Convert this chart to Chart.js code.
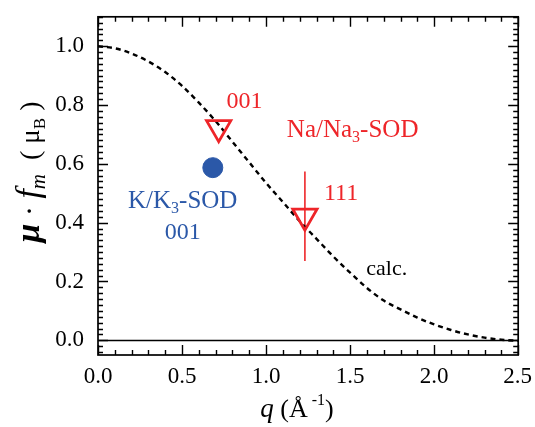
<!DOCTYPE html>
<html>
<head>
<meta charset="utf-8">
<script src="https://cdn.jsdelivr.net/npm/chart.js@4.4.1/dist/chart.umd.min.js"></script>
<style>
  html, body { margin: 0; padding: 0; background: #ffffff; }
  #wrap { width: 535px; height: 427px; }
</style>
</head>
<body>
<div id="wrap"><canvas id="chart" width="535" height="427"></canvas></div>
<script>
// calculated form factor curve
const calcQ = [0.0, 0.1, 0.2, 0.3, 0.4, 0.5, 0.6, 0.7, 0.8, 0.9, 1.0, 1.1, 1.2,
               1.3, 1.4, 1.5, 1.6, 1.7, 1.8, 1.9, 2.0, 2.1, 2.2, 2.3, 2.4, 2.5];
const calcF = [1.0, 0.993, 0.975, 0.948, 0.912, 0.865, 0.808, 0.745, 0.675, 0.605,
               0.535, 0.47, 0.405, 0.345, 0.285, 0.23, 0.178, 0.135, 0.105, 0.077,
               0.054, 0.035, 0.02, 0.009, 0.002, -0.002];

// Na/Na3-SOD measured points (001, 111)
const naQ = [0.718, 1.231];
const naMu = [0.723, 0.422];
const naErr = [0, 0.152];

// K/K3-SOD measured point (001)
const kQ = [0.683];
const kMu = [0.587];

// tick labels
const xTickValues = [0.0, 0.5, 1.0, 1.5, 2.0, 2.5];
const yTickValues = [0.0, 0.2, 0.4, 0.6, 0.8, 1.0];

const RED = "#ee2529";
const BLUE = "#2b58a8";
const SERIF = "'Liberation Serif', 'Times New Roman', serif";

function toPoints(xs, ys) {
  const pts = [];
  for (let i = 0; i < xs.length; i++) pts.push({ x: xs[i], y: ys[i] });
  return pts;
}

// draws a row of text pieces (for sub/superscripts)
function drawRuns(ctx, x, y, runs, color) {
  let total = 0;
  runs.forEach(function(r) {
    ctx.font = r.font;
    r.w = ctx.measureText(r.t).width;
    total += r.w;
  });
  let cx = x - total / 2;
  ctx.fillStyle = color;
  ctx.textBaseline = "alphabetic";
  ctx.textAlign = "left";
  runs.forEach(function(r) {
    ctx.font = r.font;
    ctx.fillText(r.t, cx, y + (r.dy || 0));
    cx += r.w;
  });
}

const framePlugin = {
  id: "frame",
  beforeDatasetsDraw: function(chart) {
    const ctx = chart.ctx;
    const xs = chart.scales.x, ys = chart.scales.y;
    // error bars
    ctx.save();
    ctx.strokeStyle = RED;
    ctx.lineWidth = 1.6;
    for (let i = 0; i < naQ.length; i++) {
      if (!naErr[i]) continue;
      const px = xs.getPixelForValue(naQ[i]);
      ctx.beginPath();
      ctx.moveTo(px, ys.getPixelForValue(naMu[i] + naErr[i]));
      ctx.lineTo(px, ys.getPixelForValue(naMu[i] - naErr[i]));
      ctx.stroke();
    }
    // zero line
    const y0 = Math.round(ys.getPixelForValue(0)) + 0.5;
    ctx.strokeStyle = "#000";
    ctx.lineWidth = 1.4;
    ctx.beginPath();
    ctx.moveTo(chart.chartArea.left, y0);
    ctx.lineTo(chart.chartArea.right, y0);
    ctx.stroke();
    ctx.restore();
  },
  afterDraw: function(chart) {
    const ctx = chart.ctx;
    const a = chart.chartArea;
    const xs = chart.scales.x, ys = chart.scales.y;
    ctx.save();

    // frame
    ctx.strokeStyle = "#000";
    ctx.lineWidth = 1.7;
    ctx.strokeRect(a.left, a.top, a.right - a.left, a.bottom - a.top);

    // ticks pointing inward on all four sides
    ctx.lineWidth = 1.4;
    ctx.beginPath();
    for (let k = 0; k <= 25; k++) {
      const v = k / 10;
      const px = Math.round(xs.getPixelForValue(v)) + 0.5;
      const len = (k % 5 === 0) ? 10 : 5;
      ctx.moveTo(px, a.bottom); ctx.lineTo(px, a.bottom - len);
      ctx.moveTo(px, a.top); ctx.lineTo(px, a.top + len);
    }
    for (let k = -2; k <= 55; k++) {
      const v = k / 50;
      if (v < ys.min || v > ys.max) continue;
      const py = Math.round(ys.getPixelForValue(v)) + 0.5;
      const len = (k % 10 === 0) ? 10 : 5;
      ctx.moveTo(a.left, py); ctx.lineTo(a.left + len, py);
      ctx.moveTo(a.right, py); ctx.lineTo(a.right - len, py);
    }
    ctx.stroke();

    // x tick labels
    ctx.fillStyle = "#000";
    ctx.font = "23px " + SERIF;
    ctx.textAlign = "center";
    ctx.textBaseline = "middle";
    xTickValues.forEach(function(v) {
      const txt = v.toFixed(1);
      const w = ctx.measureText(txt).width;
      let px = xs.getPixelForValue(v);
      px = Math.min(px, chart.width - w / 2 - 3);
      ctx.fillText(txt, px, a.bottom + 22);
    });

    // x axis title
    drawRuns(ctx, 297, 417, [
      { t: "q", font: "italic 27px " + SERIF },
      { t: " (Å", font: "26px " + SERIF },
      { t: " -1", font: "16px " + SERIF, dy: -12 },
      { t: ")", font: "26px " + SERIF }
    ], "#000");

    // y axis title, rotated
    ctx.save();
    ctx.translate(39, 172);
    ctx.rotate(-Math.PI / 2);
    drawRuns(ctx, 0, 0, [
      { t: "μ", font: "italic bold 34px " + SERIF },
      { t: " · ", font: "30px " + SERIF },
      { t: "f", font: "italic 34px " + SERIF },
      { t: "m", font: "italic 21px " + SERIF, dy: 6 },
      { t: "  ( ", font: "28px " + SERIF },
      { t: "μ", font: "27px " + SERIF },
      { t: "B", font: "17px " + SERIF, dy: 6 },
      { t: " )", font: "28px " + SERIF }
    ], "#000");
    ctx.restore();

    // annotations
    function at(q, m) { return [xs.getPixelForValue(q), ys.getPixelForValue(m)]; }
    let p = at(0.871, 0.817);
    drawRuns(ctx, p[0], p[1] + 8, [{ t: "001", font: "24px " + SERIF }], RED);
    p = at(1.515, 0.72);
    drawRuns(ctx, p[0], p[1] + 8, [
      { t: "Na/Na", font: "25px " + SERIF },
      { t: "3", font: "16px " + SERIF, dy: 5 },
      { t: "-SOD", font: "25px " + SERIF }
    ], RED);
    p = at(1.446, 0.503);
    drawRuns(ctx, p[0], p[1] + 8, [{ t: "111", font: "24px " + SERIF }], RED);
    p = at(0.504, 0.477);
    drawRuns(ctx, p[0], p[1] + 8, [
      { t: "K/K", font: "25px " + SERIF },
      { t: "3", font: "16px " + SERIF, dy: 5 },
      { t: "-SOD", font: "25px " + SERIF }
    ], BLUE);
    p = at(0.504, 0.37);
    drawRuns(ctx, p[0], p[1] + 8, [{ t: "001", font: "24px " + SERIF }], BLUE);
    p = at(1.718, 0.247);
    drawRuns(ctx, p[0], p[1] + 7, [{ t: "calc.", font: "22px " + SERIF }], "#000");

    ctx.restore();
  }
};

new Chart(document.getElementById("chart").getContext("2d"), {
  type: "scatter",
  data: {
    datasets: [
      {
        type: "line",
        label: "calc.",
        data: toPoints(calcQ, calcF),
        borderColor: "#000",
        borderWidth: 2.4,
        borderDash: [5, 4],
        pointRadius: 0,
        cubicInterpolationMode: "monotone",
        fill: false,
        order: 3
      },
      {
        label: "Na/Na3-SOD",
        data: toPoints(naQ, naMu),
        pointStyle: "triangle",
        rotation: 180,
        radius: 14,
        borderColor: RED,
        borderWidth: 2.8,
        backgroundColor: "rgba(0,0,0,0)",
        order: 1
      },
      {
        label: "K/K3-SOD",
        data: toPoints(kQ, kMu),
        pointStyle: "circle",
        radius: 10,
        borderColor: BLUE,
        borderWidth: 1,
        backgroundColor: BLUE,
        order: 2
      }
    ]
  },
  options: {
    responsive: false,
    animation: false,
    layout: { padding: { top: 10, right: 15, left: 0, bottom: 0 } },
    plugins: {
      legend: { display: false },
      tooltip: { enabled: false }
    },
    scales: {
      x: {
        type: "linear",
        min: 0,
        max: 2.5,
        grid: { display: false },
        border: { display: false },
        ticks: { display: false },
        afterBuildTicks: function(scale) {
          scale.ticks = xTickValues.map(function(v) { return { value: v }; });
        },
        afterFit: function(scale) {
          scale.height = 72;
          scale.paddingLeft = 0;
          scale.paddingRight = 0;
        }
      },
      y: {
        type: "linear",
        min: -0.05,
        max: 1.1,
        grid: { display: false },
        border: { display: false },
        ticks: {
          color: "#000",
          padding: 6,
          font: { family: "Liberation Serif", size: 23 },
          callback: function(value) { return value.toFixed(1); }
        },
        afterBuildTicks: function(scale) {
          scale.ticks = yTickValues.map(function(v) { return { value: v }; });
        },
        afterFit: function(scale) {
          scale.width = 98;
          scale.paddingTop = 0;
          scale.paddingBottom = 0;
        }
      }
    }
  },
  plugins: [framePlugin]
});
</script>
</body>
</html>
